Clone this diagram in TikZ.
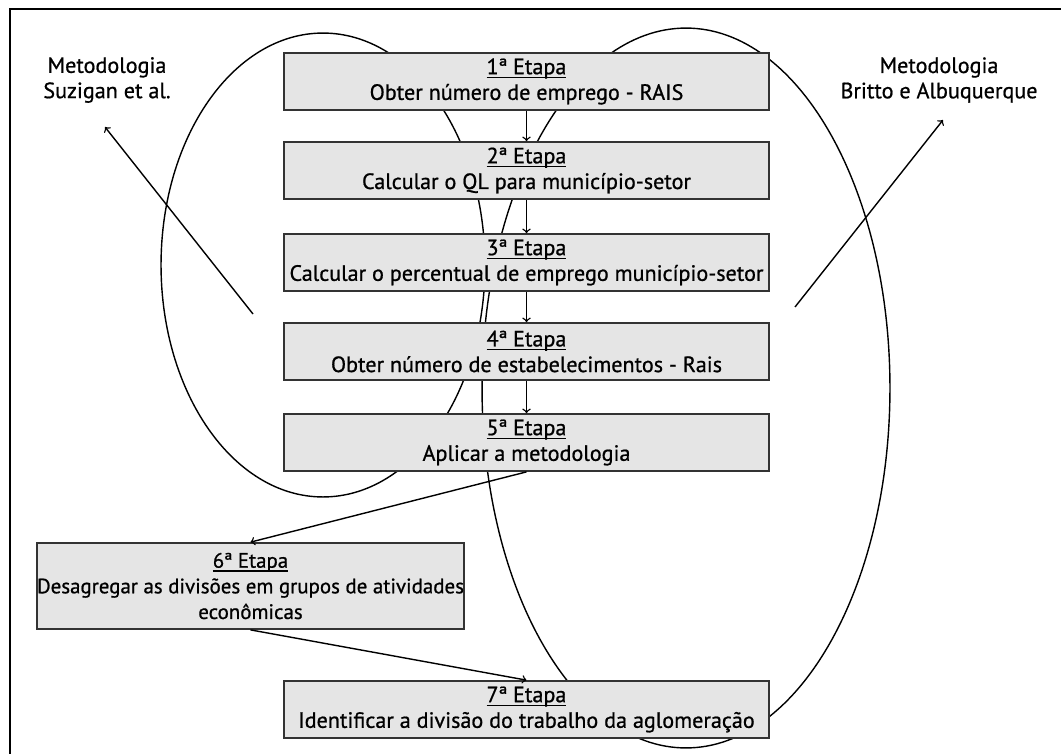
\documentclass[tikz,border=0pt]{standalone}
\usepackage{fontspec}
\setmainfont{PT Sans}[FakeBold=0.8]

\definecolor{etapacinza}{RGB}{229,229,229}
\newcommand\sublinha[1]{\setbox0\hbox{#1}\rlap{\rule[-2.2pt]{\wd0}{0.6pt}}\box0}

\tikzset{
	etapa/.style={draw=black!80, line width=1pt, fill=etapacinza, align=center,
		minimum width=9.7cm, minimum height=1.14cm, inner sep=0pt,
		font=\fontsize{12.6}{14.6}\selectfont},
	rotulo/.style={align=center, inner sep=0pt, font=\fontsize{12.6}{14.4}\selectfont},
	seta/.style={->, line width=0.8pt},
}

\begin{document}
\begin{tikzpicture}[x=0.02cm, y=-0.02cm, line width=0.8pt]
	\useasboundingbox (0,0) rectangle (1061,754);
	% Moldura
	\draw (1061,9) -- (10,9) -- (10,754);
	% Elipses das metodologias
	\draw (323,265) ellipse [x radius=3.24cm, y radius=4.64cm];
	\draw (686,388) ellipse [x radius=4.08cm, y radius=7.2cm];
	% Etapas 1 a 5
	\foreach \k/\y/\txt in {1/81.5/{Obter número de emprego - RAIS},
			2/170.5/{Calcular o QL para município-setor},
			3/262.5/{Calcular o percentual de emprego município-setor},
			4/351.5/{Obter número de estabelecimentos - Rais},
			5/442.5/{Aplicar a metodologia}}
		\node[etapa] (etapa\k) at (526.5,\y) {\sublinha{\k ª Etapa}\\\txt};
	% Etapas 6 e 7
	\node[etapa, minimum width=8.54cm, minimum height=1.72cm,
		font=\fontsize{11.9}{14.6}\selectfont] (etapa6) at (250.5,586)
		{\sublinha{6ª Etapa}\\Desagregar as divisões em grupos de atividades\\econômicas};
	\node[etapa] (etapa7) at (526.5,709.5)
		{\sublinha{7ª Etapa}\\Identificar a divisão do trabalho da aglomeração};
	% Setas entre etapas
	\foreach \a/\b in {1/2,2/3,3/4,4/5}
		\draw[seta] (etapa\a) -- (etapa\b);
	\draw[seta] (etapa5.south) -- (etapa6.north);
	\draw[seta] (etapa6.south) -- (etapa7.north);
	% Metodologias
	\node[rotulo] (suzigan) at (107,80) {Metodologia\\Suzigan et al.};
	\node[rotulo] (britto) at (939,80) {Metodologia\\Britto e Albuquerque};
	\coordinate (suzpe) at (253,314);
	\coordinate (suzponta) at (105,127);
	\coordinate (bripe) at (795,307);
	\coordinate (briponta) at (943,120);
	\draw[seta] (suzpe) -- (suzponta);
	\draw[seta] (bripe) -- (briponta);
\end{tikzpicture}
\end{document}
